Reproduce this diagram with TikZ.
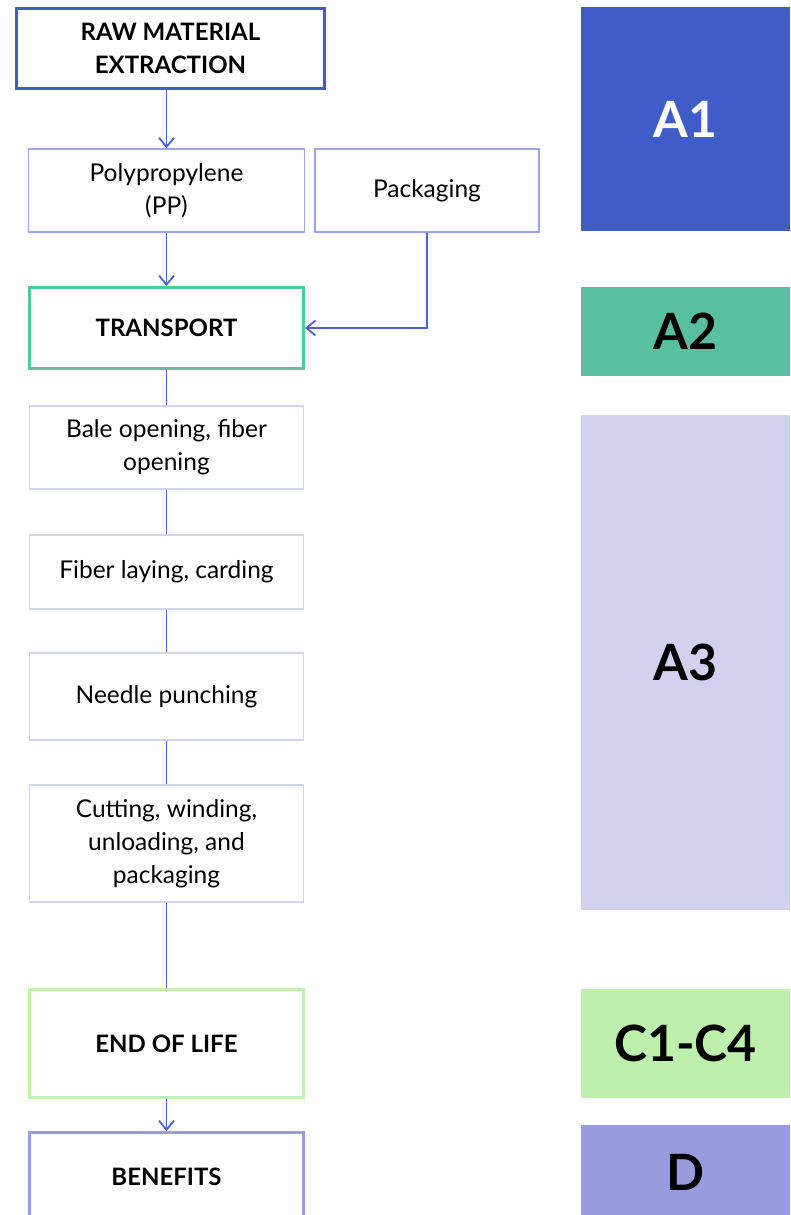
\documentclass[tikz,border=0pt]{standalone}
\usepackage{fontspec}
\setmainfont{Lato}
\usetikzlibrary{arrows.meta}
\definecolor{cA}{HTML}{405CC8}
\definecolor{cB}{HTML}{58C09E}
\definecolor{cC}{HTML}{D2D2EE}
\definecolor{cD}{HTML}{BCF0AC}
\definecolor{cE}{HTML}{969CDC}
\definecolor{lnk}{HTML}{4D63CF}
\definecolor{polyb}{HTML}{9DA3E8}
\definecolor{procb}{HTML}{D3D5F0}
\definecolor{trb}{HTML}{5CC49C}
\definecolor{eolb}{HTML}{BDF2B0}
\definecolor{benb}{HTML}{979DDF}
\tikzset{
  x=1pt, y=-1pt,
  mainbox/.style={draw, line width=3pt, inner sep=0pt, align=center, font=\fontsize{24}{33}\selectfont\bfseries},
  subbox/.style={draw, line width=1.6pt, inner sep=0pt, align=center, font=\fontsize{24.5}{33}\selectfont},
  phase/.style={inner sep=0pt, minimum width=209pt, font=\fontsize{50}{60}\selectfont\bfseries},
  link/.style={draw=lnk, line width=1.8pt},
  arr/.style={link, -{Straight Barb[length=9pt,width=15pt,line width=1.8pt]}}
}
\begin{document}
\begin{tikzpicture}
\useasboundingbox (0,0) rectangle (790,1215);
\clip (0,0) rectangle (790,1215);
\fill[white] (0,0) rectangle (790,1215);
% left column
\node[mainbox, draw=cA, minimum width=308pt, minimum height=80pt] (raw) at (170.5,48.5) {RAW MATERIAL\\EXTRACTION};
\node[subbox, draw=polyb, minimum width=276pt, minimum height=83pt] (poly) at (166.5,190.5) {Polypropylene\\(PP)};
\node[subbox, draw=polyb, minimum width=224pt, minimum height=83pt] (pack) at (427,190.5) {Packaging};
\node[mainbox, draw=trb, minimum width=274pt, minimum height=81pt] (trans) at (166.5,328) {TRANSPORT};
\node[subbox, draw=procb, minimum width=274pt, minimum height=83pt] (bale) at (166.5,447.5) {Bale opening, fiber\\opening};
\node[subbox, draw=procb, minimum width=274pt, minimum height=74pt] (lay) at (166.5,572) {Fiber laying, carding};
\node[subbox, draw=procb, minimum width=274pt, minimum height=87pt] (needle) at (166.5,696.5) {Needle punching};
\node[subbox, draw=procb, minimum width=274pt, minimum height=117pt] (cut) at (166.5,843.5) {Cutting, winding,\\unloading, and\\packaging};
\node[mainbox, draw=eolb, minimum width=274pt, minimum height=108pt] (eol) at (166.5,1043.5) {END OF LIFE};
\node[mainbox, draw=benb, minimum width=274pt, minimum height=89pt] (ben) at (166.5,1177) {BENEFITS};
% connectors
\draw[arr] (poly.north |- raw.south) -- (poly.north);
\draw[arr] (poly.south) -- (trans.north);
\coordinate (corner) at (pack.south |- trans.east);
\draw[arr] (pack.south) -- (corner) -- (trans.east);
\draw[link] (trans.south) -- (bale.north);
\draw[link] (bale.south) -- (lay.north);
\draw[link] (lay.south) -- (needle.north);
\draw[link] (needle.south) -- (cut.north);
\draw[link] (cut.south) -- (eol.north);
\draw[arr] (eol.south) -- (ben.north);
% phases
\node[phase, fill=cA, text=white, minimum height=224pt] (a1) at (685.5,119) {A1};
\node[phase, fill=cB, text=black, minimum height=89pt] (a2) at (685.5,331.5) {A2};
\node[phase, fill=cC, text=black, minimum height=495pt] (a3) at (685.5,662.5) {A3};
\node[phase, fill=cD, text=black, minimum height=109pt] (c) at (685.5,1043.5) {C1-C4};
\node[phase, fill=cE, text=black, minimum height=95pt] (d) at (685.5,1172.5) {D};
\end{tikzpicture}
\end{document}
